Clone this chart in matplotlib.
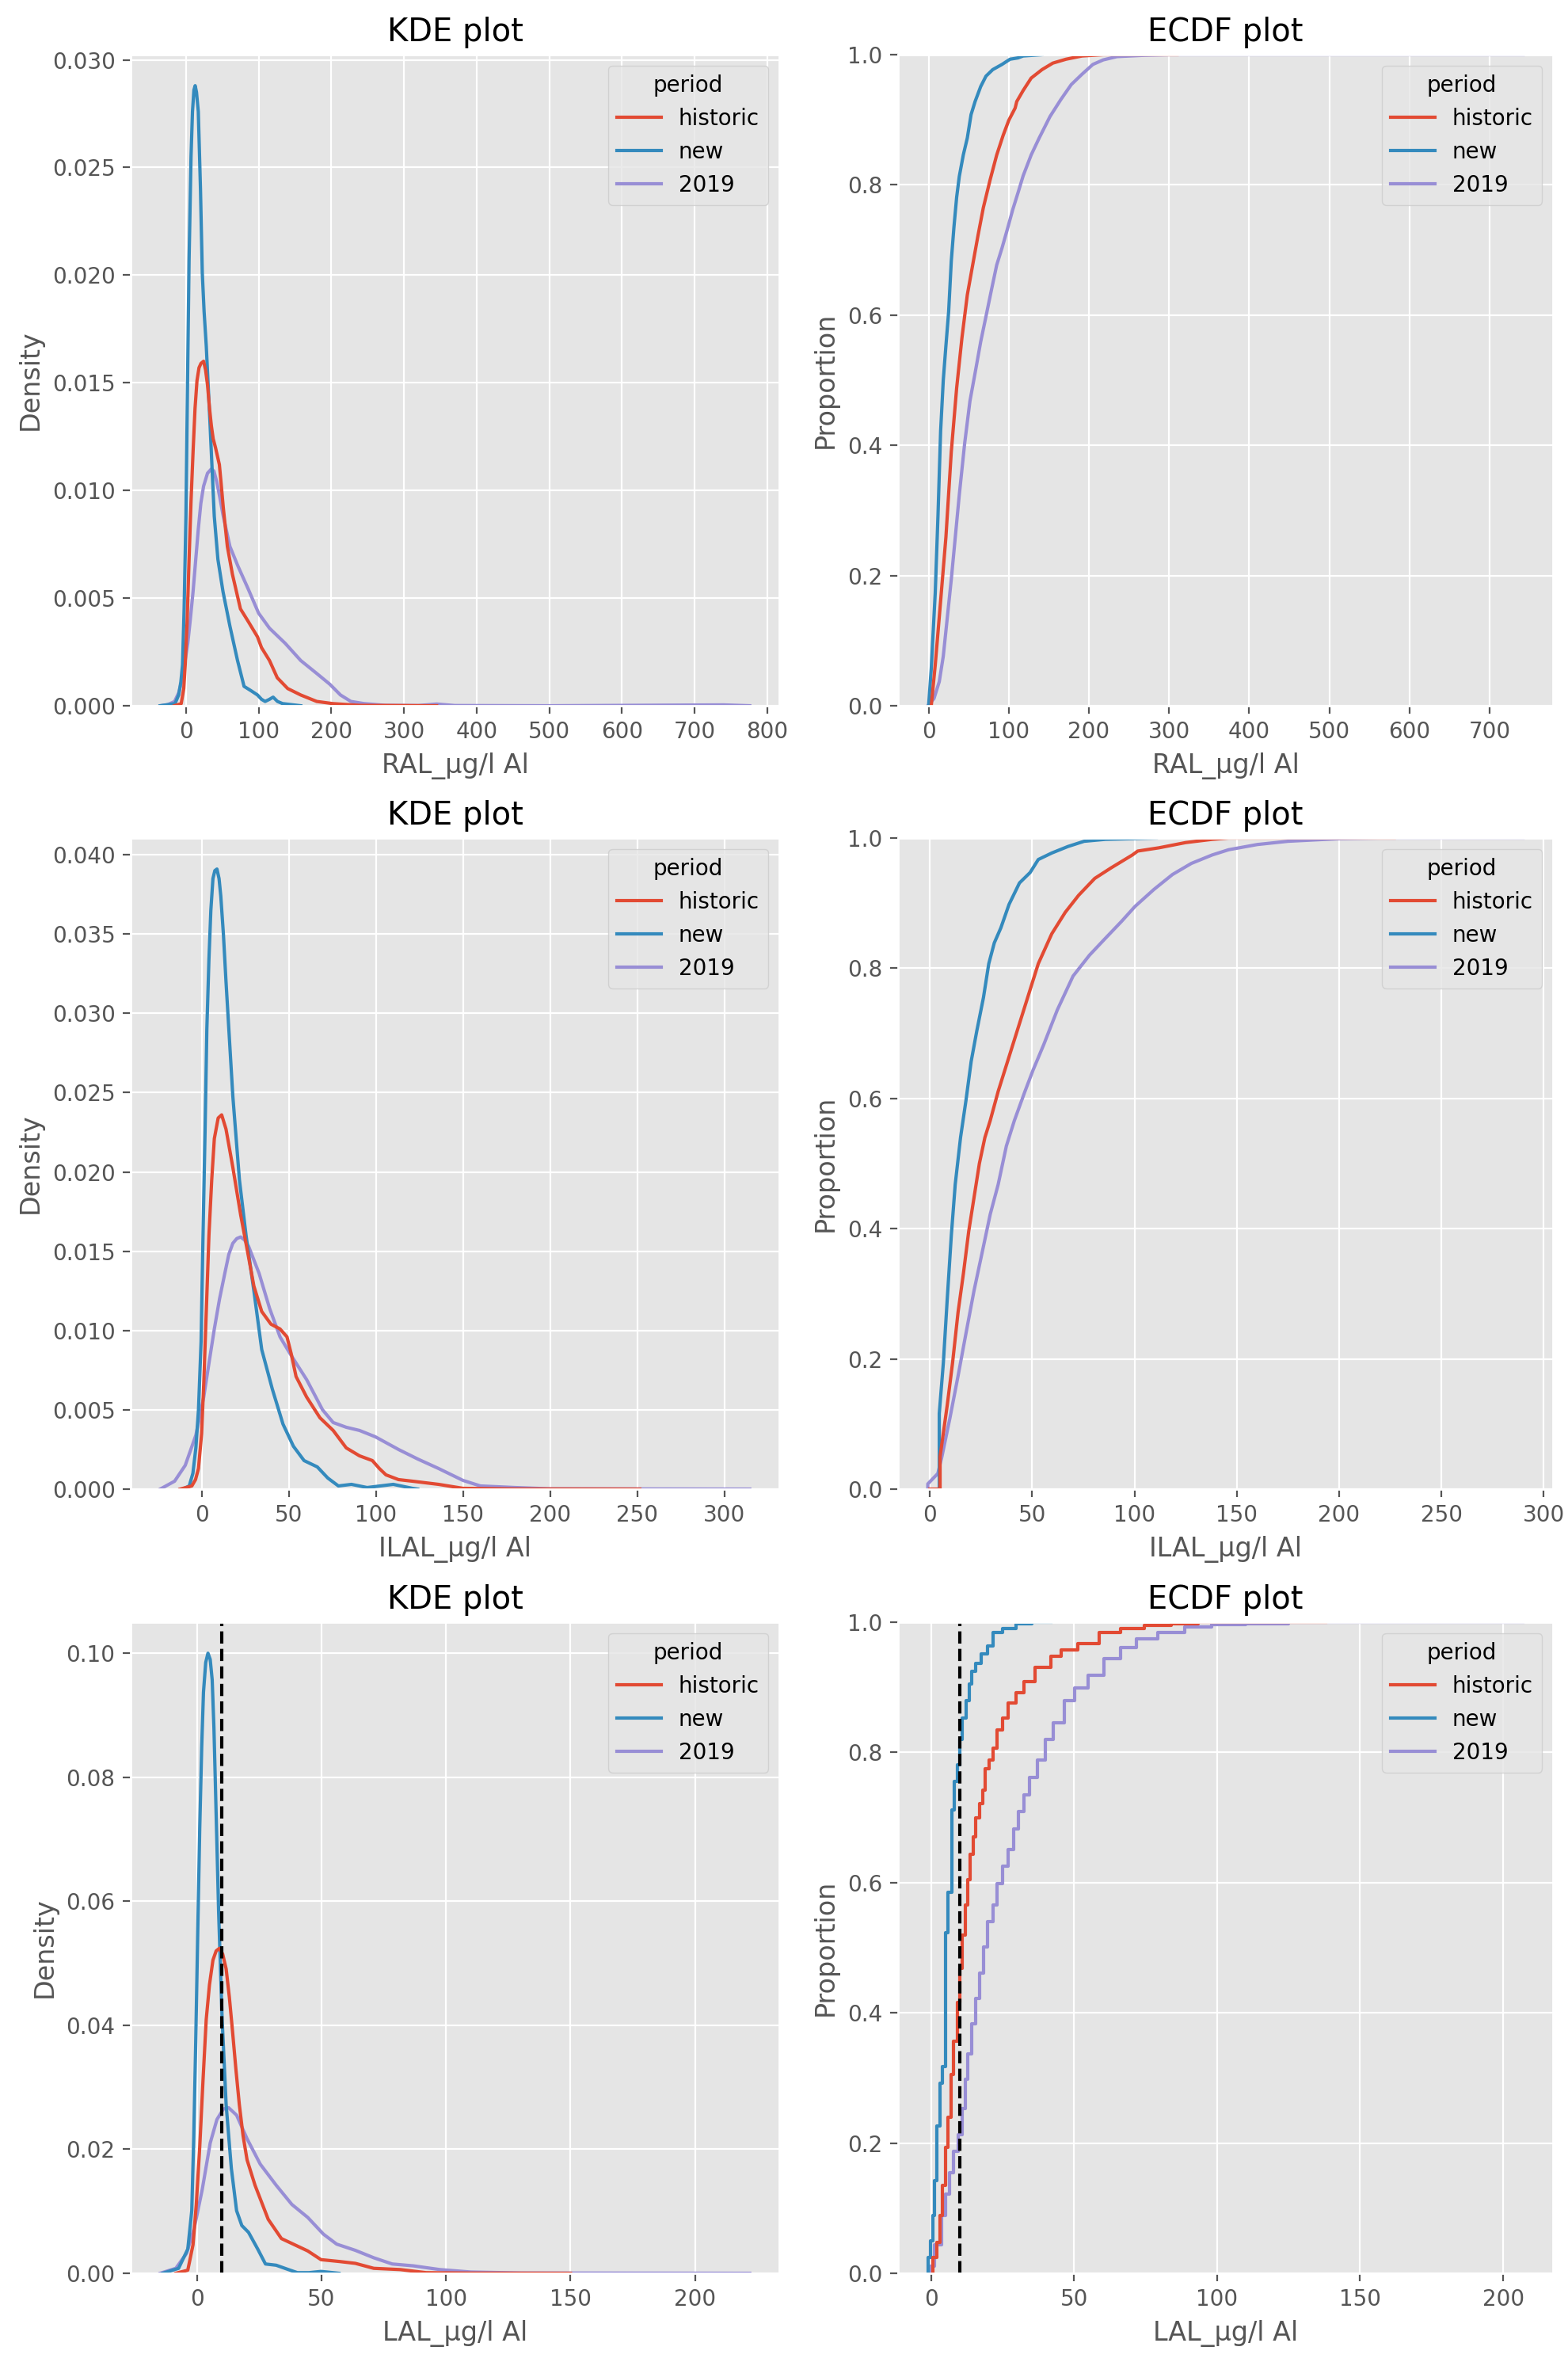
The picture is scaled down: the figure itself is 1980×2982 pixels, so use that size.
import matplotlib
matplotlib.use('Agg')
import matplotlib.pyplot as plt

plt.style.use('ggplot')

# ---- values ----
periods = ['historic', 'new', '2019']
colors = {'historic': '#E24A33', 'new': '#348ABD', '2019': '#988ED5'}
limit_lal = 10

# RAL - KDE (x, density)
ral_kde_historic = [(-16, 0), (-6.5, 0.0001), (-3, 0.0008), (-1, 0.0019), (1.5, 0.0038), (4.3, 0.0068),
                    (7, 0.0095), (9.8, 0.0118), (12.5, 0.0138), (15.2, 0.0151), (18, 0.0157),
                    (20.7, 0.0159), (24.3, 0.0160), (27, 0.0156), (29.7, 0.0149), (32.5, 0.0138),
                    (35, 0.0130), (37.5, 0.0124), (40.6, 0.0120), (46, 0.0112), (48.5, 0.0103),
                    (51.4, 0.0092), (57, 0.0074), (64, 0.0061), (75, 0.0045), (86, 0.0039),
                    (98.5, 0.0032), (104, 0.0027), (115, 0.0021), (125.7, 0.0013), (140, 0.0008),
                    (158, 0.0005), (180, 0.0002), (202, 0.0001), (238, 0.00002), (345, 0)]
ral_kde_new = [(-35.5, 0), (-15, 0.0001), (-10, 0.0005), (-7, 0.0011), (-4.7, 0.0019), (-2.5, 0.0045),
               (0, 0.0088), (2, 0.0145), (4.3, 0.0207), (7, 0.0255), (9, 0.0276), (11, 0.0286),
               (12.7, 0.0288), (14.5, 0.0285), (17, 0.0276), (20, 0.0240), (22.5, 0.0201),
               (25, 0.0183), (28, 0.0167), (33, 0.0132), (36, 0.0110), (39, 0.0088), (44, 0.0068),
               (51, 0.0053), (60.5, 0.0037), (71, 0.0021), (80, 0.0009), (89.5, 0.0007),
               (98.5, 0.0005), (104, 0.0003), (109, 0.0002), (115, 0.0003), (120, 0.0004),
               (126, 0.0002), (133, 0.0001), (158, 0)]
ral_kde_2019 = [(-35, 0), (-25, 0.00005), (-15.6, 0.0002), (-10, 0.0006), (-4.7, 0.0013), (2.5, 0.0029),
                (6, 0.0040), (9.8, 0.0053), (13.5, 0.0068), (17, 0.0082), (20.5, 0.0094),
                (24.3, 0.0102), (29.7, 0.0108), (35, 0.0110), (38.5, 0.0109), (42.4, 0.0104),
                (46.5, 0.0097), (51.4, 0.0088), (60.5, 0.0074), (71.4, 0.0065), (86, 0.0054),
                (100, 0.0043), (115, 0.0036), (136.6, 0.0029), (158, 0.0021), (180, 0.0015),
                (198, 0.0010), (212.7, 0.0005), (227, 0.0002), (245, 0.0001), (274, 0.00002),
                (320, 0.00001), (345, 0.00008), (370, 0.00001), (500, 0), (740, 0.00004), (776, 0)]

# RAL - ECDF (x, proportion)
ral_ecdf_historic = [(3.3, 0), (8.3, 0.063), (15, 0.161), (21.6, 0.259), (28.3, 0.39), (35, 0.488),
                     (41.6, 0.565), (48.3, 0.631), (55, 0.677), (61.6, 0.722), (68.3, 0.765),
                     (76.6, 0.807), (85, 0.846), (93, 0.876), (100, 0.899), (108, 0.918), (110, 0.928),
                     (118, 0.945), (128, 0.964), (141.5, 0.977), (155, 0.987), (171.5, 0.993),
                     (191.5, 0.998), (218, 1.0), (310, 1.0)]
ral_ecdf_new = [(0, 0), (3.3, 0.057), (8.3, 0.174), (11.7, 0.292), (15, 0.422), (18.3, 0.50),
                (21.6, 0.553), (25, 0.605), (28.3, 0.683), (31.6, 0.735), (35, 0.781), (38.3, 0.813),
                (43.3, 0.846), (48.3, 0.872), (53, 0.908), (58, 0.928), (65, 0.951), (71.6, 0.967),
                (80, 0.977), (91.6, 0.985), (101.6, 0.993), (111.5, 0.995), (118, 0.998), (141.5, 1.0)]
ral_ecdf_2019 = [(-1, 0), (6.7, 0.011), (13.3, 0.037), (18.3, 0.076), (23.3, 0.135), (28.3, 0.194),
                 (33.3, 0.259), (38.3, 0.324), (45, 0.403), (51.6, 0.468), (58.3, 0.513), (65, 0.559),
                 (71.6, 0.598), (78.3, 0.638), (85, 0.677), (91.6, 0.703), (98.3, 0.732), (105, 0.762),
                 (111.6, 0.788), (118, 0.814), (128, 0.846), (138, 0.872), (151.5, 0.905), (165, 0.931),
                 (178, 0.954), (191.5, 0.970), (205, 0.985), (218, 0.992), (235, 0.997), (268, 0.999),
                 (301, 1.0), (742, 1.0)]

# ILAL - KDE
ilal_kde_historic = [(-12.4, 0), (-5.6, 0.0002), (-3.5, 0.0006), (-1.8, 0.0013), (0, 0.0035),
                     (1.2, 0.0066), (3, 0.0122), (4.2, 0.0160), (5.8, 0.0195), (7.3, 0.0221),
                     (9.5, 0.0234), (11.5, 0.0236), (14, 0.0227), (17.9, 0.0203), (22.4, 0.0173),
                     (27, 0.0146), (30, 0.0128), (34.5, 0.0112), (39.8, 0.0104), (45, 0.0101),
                     (49, 0.0096), (51.5, 0.0085), (54.2, 0.0071), (60.3, 0.0058), (67.9, 0.0045),
                     (75.5, 0.0037), (83, 0.0026), (90.6, 0.0021), (98, 0.0018), (102, 0.0013),
                     (105.8, 0.0009), (113, 0.0006), (121, 0.0005), (136, 0.0003), (150, 0.00005),
                     (180, 0.00001), (251.5, 0)]
ilal_kde_new = [(-10.9, 0), (-7.1, 0.0002), (-5, 0.0010), (-3.3, 0.0026), (-1.8, 0.0050),
                (-0.3, 0.0093), (0.8, 0.0160), (2, 0.0227), (3, 0.0290), (4.2, 0.0334), (5.3, 0.0365),
                (6.5, 0.0385), (7.6, 0.0390), (8.8, 0.0391), (10, 0.0385), (11, 0.0374), (12.5, 0.0350),
                (14, 0.0320), (17.9, 0.0248), (21.7, 0.0195), (25.5, 0.0160), (30, 0.0125),
                (34.5, 0.0088), (40.6, 0.0063), (46.7, 0.0041), (52.7, 0.0027), (58.8, 0.0018),
                (66.4, 0.0014), (72.4, 0.0007), (78.5, 0.0002), (86, 0.0003), (95, 0.0001),
                (110, 0.0003), (121, 0.00005), (124, 0)]
ilal_kde_2019 = [(-23.8, 0), (-15.5, 0.0005), (-9.4, 0.0015), (-3.3, 0.0034), (1.2, 0.0058),
                 (4.3, 0.0080), (7.3, 0.0101), (10.3, 0.0120), (13.3, 0.0136), (15.6, 0.0148),
                 (17.9, 0.0155), (20.2, 0.0158), (22.4, 0.0159), (24.7, 0.0157), (27, 0.0153),
                 (33, 0.0136), (39, 0.0114), (45, 0.0096), (51, 0.0085), (60.3, 0.0069), (69.4, 0.0050),
                 (75.5, 0.0042), (83, 0.0039), (90.6, 0.0037), (99.7, 0.0033), (113, 0.0025),
                 (124, 0.0019), (136, 0.0013), (150, 0.00055), (160, 0.0002), (180, 0.0001),
                 (200, 0.00002), (314.6, 0)]

# ILAL - ECDF
ilal_ecdf_historic = [(0, 0), (5, 0), (5, 0.050), (8.5, 0.129), (11.1, 0.194), (13.8, 0.272),
                      (16.4, 0.331), (19, 0.396), (21.6, 0.448), (24.2, 0.500), (26.9, 0.540),
                      (29.5, 0.566), (33.4, 0.611), (37.4, 0.651), (41.3, 0.690), (45.2, 0.729),
                      (49.1, 0.768), (53, 0.807), (59.6, 0.853), (66.2, 0.886), (72.7, 0.912),
                      (80.6, 0.938), (88.5, 0.954), (99, 0.974), (101.6, 0.980), (112, 0.985),
                      (125, 0.993), (138, 0.998), (146, 1.0), (227, 1.0)]
ilal_ecdf_new = [(4.6, 0), (4.6, 0.116), (6.6, 0.194), (8.5, 0.292), (10.5, 0.390), (12.4, 0.468),
                 (15, 0.540), (17.7, 0.598), (20.2, 0.657), (22.9, 0.703), (26.2, 0.755), (28.8, 0.807),
                 (31.5, 0.839), (34.7, 0.862), (38.7, 0.898), (43.8, 0.931), (49, 0.947), (53, 0.967),
                 (59.6, 0.977), (67.5, 0.987), (75.4, 0.995), (85.8, 0.998), (110.7, 1.0)]
ilal_ecdf_2019 = [(-1, 0), (-1, 0.008), (3.9, 0.024), (5.9, 0.050), (9.8, 0.109), (13.8, 0.174),
                  (17.7, 0.240), (21.6, 0.305), (25.6, 0.364), (29.5, 0.422), (33.4, 0.468),
                  (37.4, 0.527), (41.3, 0.566), (46.5, 0.611), (50.5, 0.644), (55.7, 0.683),
                  (62.3, 0.736), (70, 0.788), (78, 0.820), (85.8, 0.846), (93.7, 0.872), (100.3, 0.895),
                  (109.5, 0.921), (118.6, 0.944), (127.8, 0.961), (138, 0.974), (146, 0.982),
                  (160, 0.990), (175, 0.995), (200, 0.999), (220, 1.0), (290, 1.0)]

# LAL - KDE
lal_kde_historic = [(-8.5, 0), (-3.7, 0.0005), (-1.6, 0.0046), (-0.3, 0.0110), (1.1, 0.0204),
                    (2.4, 0.0310), (3.7, 0.0409), (5, 0.0465), (6.4, 0.0505), (7.7, 0.0520),
                    (9, 0.0524), (10.3, 0.0515), (11.7, 0.0491), (13, 0.0445), (14.3, 0.0389),
                    (15.6, 0.0330), (17, 0.0272), (18.5, 0.0222), (20.1, 0.0183), (23.3, 0.0142),
                    (28.6, 0.0087), (33.9, 0.0056), (39.2, 0.0046), (44.5, 0.0036), (49.8, 0.0022),
                    (57.2, 0.0019), (63.6, 0.0016), (71, 0.0008), (81.6, 0.0006), (92, 0.0001),
                    (110, 0.00003), (150, 0)]
lal_kde_new = [(-13.8, 0), (-7.4, 0.0008), (-3.7, 0.0039), (-2.1, 0.0101), (-1.3, 0.0220),
               (-0.5, 0.0375), (0.3, 0.0550), (1.1, 0.0718), (1.9, 0.0850), (2.6, 0.0937), (3.5, 0.0985),
               (4.4, 0.1000), (5.3, 0.0990), (6.1, 0.0957), (6.8, 0.0880), (7.4, 0.0786), (8.7, 0.0581),
               (10.1, 0.0409), (11.7, 0.0272), (13.8, 0.0169), (15.9, 0.0101), (18, 0.0077),
               (20.7, 0.0066), (24.4, 0.0039), (27.5, 0.0015), (31.8, 0.0013), (36, 0.0007),
               (40.3, 0.0001), (45, 0.0001), (49.8, 0.0003), (57, 0)]
lal_kde_2019 = [(-14.8, 0), (-8.5, 0.0008), (-4.2, 0.0032), (-1.1, 0.0073), (2.1, 0.0135), (5.3, 0.0210),
                (8, 0.0248), (10.6, 0.0265), (12.7, 0.0267), (15.9, 0.0255), (20.1, 0.0217),
                (25.4, 0.0176), (31.8, 0.0142), (38.1, 0.0111), (44.5, 0.0090), (50.8, 0.0063),
                (56.1, 0.0047), (63.6, 0.0037), (71, 0.0025), (78.4, 0.0015), (86.9, 0.0012),
                (97.5, 0.0006), (110, 0.0002), (130, 0.00005), (222, 0)]

# LAL - ECDF (values are coarse, so this one is drawn as steps)
lal_ecdf_historic = [(0.7, 0), (2.1, 0.024), (3.1, 0.047), (4.0, 0.089), (5, 0.135), (5.9, 0.194),
                     (7.1, 0.24), (8.0, 0.305), (9.2, 0.357), (10.1, 0.416), (11.0, 0.468), (12, 0.520),
                     (12.9, 0.566), (13.8, 0.605), (14.8, 0.644), (15.7, 0.670), (17.1, 0.700),
                     (18, 0.722), (19, 0.742), (20.4, 0.775), (21.8, 0.788), (23.2, 0.807), (25, 0.834),
                     (26.9, 0.853), (29.7, 0.876), (32.5, 0.892), (36.3, 0.909), (41.9, 0.931),
                     (45.6, 0.948), (51.2, 0.957), (58.7, 0.967), (66.2, 0.984), (74.6, 0.990),
                     (83.9, 0.995), (93.3, 0.998), (102.6, 1.0), (138, 1.0)]
lal_ecdf_new = [(-1.1, 0), (-0.2, 0.024), (0.7, 0.05), (1.2, 0.089), (2.1, 0.142), (3.1, 0.226),
                (4.0, 0.292), (5, 0.318), (5, 0.494), (5.9, 0.523), (5.9, 0.572), (7.3, 0.585),
                (7.3, 0.650), (8.2, 0.712), (9.2, 0.755), (10.1, 0.781), (11.0, 0.820), (12.4, 0.853),
                (13.3, 0.879), (14.3, 0.905), (15.7, 0.924), (17.6, 0.937), (19.9, 0.951),
                (21.8, 0.964), (25, 0.984), (29.7, 0.990), (35.3, 0.998), (41.9, 1.0)]
lal_ecdf_2019 = [(-0.2, 0), (1.2, 0.011), (3.6, 0.044), (5, 0.089), (6.4, 0.122), (7.8, 0.155),
                 (9.6, 0.187), (11, 0.213), (12, 0.253), (12.9, 0.298), (14.3, 0.337), (15.7, 0.383),
                 (17.1, 0.422), (18.5, 0.461), (19.9, 0.501), (21.8, 0.540), (23.2, 0.566), (25, 0.599),
                 (26.9, 0.625), (28.8, 0.651), (30.7, 0.683), (32.5, 0.709), (34.4, 0.735),
                 (37.2, 0.762), (40, 0.788), (42.8, 0.820), (46.5, 0.846), (50.3, 0.879), (55, 0.899),
                 (60.6, 0.918), (66.2, 0.944), (71.8, 0.961), (79.3, 0.974), (88.6, 0.984),
                 (98, 0.993), (110, 0.996), (125, 0.998), (150, 1.0), (207, 1.0)]

rows = [
    ('RAL_µg/l Al', {'historic': ral_kde_historic, 'new': ral_kde_new, '2019': ral_kde_2019},
     {'historic': ral_ecdf_historic, 'new': ral_ecdf_new, '2019': ral_ecdf_2019}, None, 'default'),
    ('ILAL_µg/l Al', {'historic': ilal_kde_historic, 'new': ilal_kde_new, '2019': ilal_kde_2019},
     {'historic': ilal_ecdf_historic, 'new': ilal_ecdf_new, '2019': ilal_ecdf_2019}, None, 'default'),
    ('LAL_µg/l Al', {'historic': lal_kde_historic, 'new': lal_kde_new, '2019': lal_kde_2019},
     {'historic': lal_ecdf_historic, 'new': lal_ecdf_new, '2019': lal_ecdf_2019}, limit_lal, 'steps-pre'),
]

W, H = 1980, 2982
fig, axes = plt.subplots(3, 2, figsize=(W / 200, H / 200))

# axes boxes in pixels, matched to the reference layout
col_px = [(165, 819), (1134, 827)]
row_top_px = [69, 1058, 2048]
row_h_px = 822

for r, (xlabel, kde, ecdf, vline, ecdf_style) in enumerate(rows):
    ax_k, ax_e = axes[r]

    # seaborn draws hue levels in reverse order
    for p in periods[::-1]:
        xs, ys = zip(*kde[p])
        ax_k.plot(xs, ys, color=colors[p], lw=1.5, label=p)
        xs, ys = zip(*ecdf[p])
        ax_e.plot(xs, ys, color=colors[p], lw=1.5, label=p, drawstyle=ecdf_style)

    ax_k.set_ylim(bottom=0)
    ax_e.set_ylim(0, 1)

    if vline is not None:
        ax_k.axvline(vline, color='black', ls='--', lw=1.5)
        ax_e.axvline(vline, color='black', ls='--', lw=1.5)

    for c, (ax, title, ylab) in enumerate([(ax_k, 'KDE plot', 'Density'),
                                           (ax_e, 'ECDF plot', 'Proportion')]):
        ax.set_title(title)
        ax.set_xlabel(xlabel)
        ax.set_ylabel(ylab)
        h, l = ax.get_legend_handles_labels()
        order = [l.index(p) for p in periods]
        ax.legend([h[i] for i in order], periods, title='period', loc='upper right')
        left, width = col_px[c]
        top = row_top_px[r]
        ax.set_position([left / W, 1 - (top + row_h_px) / H, width / W, row_h_px / H])

fig.savefig('out.png', dpi=200)
